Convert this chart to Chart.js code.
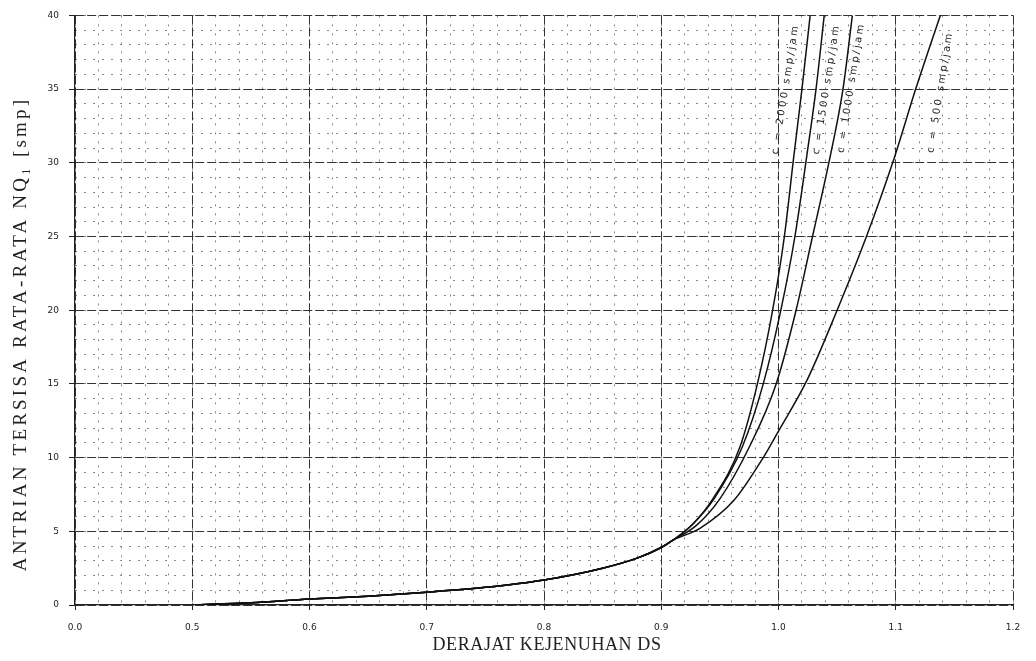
<!DOCTYPE html>
<html>
<head>
<meta charset="utf-8">
<script src="https://cdn.jsdelivr.net/npm/chart.js@4/dist/chart.umd.min.js"></script>
<style>
  html, body { margin: 0; padding: 0; background: #fff; }
  #wrap { width: 1036px; height: 661px; }
</style>
</head>
<body>
<div id="wrap"><canvas id="grafikAntrian" width="1036" height="661"></canvas></div>
<script>
// tick labels of the (broken) DS axis: 0.0 then 0.5 .. 1.2
const xTickLabels = ['0.0', '0.5', '0.6', '0.7', '0.8', '0.9', '1.0', '1.1', '1.2'];
const yTicks = [0, 5, 10, 15, 20, 25, 30, 35, 40];

const judulX = 'DERAJAT KEJENUHAN DS';
const judulY = 'ANTRIAN TERSISA RATA-RATA NQ\u2081 [smp]';

// common part of all curves (DS up to the split)
const dsDasar = [0.50, 0.55, 0.60, 0.65, 0.70, 0.75, 0.80, 0.85, 0.88, 0.90, 0.91];
const nqDasar = [0, 0.15, 0.4, 0.6, 0.87, 1.2, 1.7, 2.5, 3.2, 3.9, 4.4];

// after the split, one per capacity
const ds2000 = [0.927, 0.944, 0.967, 0.982, 0.995, 1.005, 1.013, 1.020, 1.027];
const nq2000 = [5.5, 7.2, 10.7, 15, 20, 25, 30.4, 35, 40];

const ds1500 = [0.927, 0.945, 0.969, 0.987, 1.002, 1.014, 1.024, 1.032, 1.039];
const nq1500 = [5.5, 7.2, 10.7, 15, 20, 25, 30.4, 35, 40];

const ds1000 = [0.930, 0.950, 0.975, 0.998, 1.015, 1.029, 1.044, 1.055, 1.063];
const nq1000 = [5.4, 7.2, 10.7, 15, 20, 25, 30.4, 35, 40];

const ds500 = [0.933, 0.962, 0.987, 1.000, 1.024, 1.050, 1.075, 1.099, 1.117, 1.138];
const nq500 = [5.2, 7.1, 10.0, 11.8, 15.2, 20, 25, 30.4, 35, 40];

// curve labels
const labelTeks = ['c = 2000 smp/jam', 'c = 1500 smp/jam', 'c = 1000 smp/jam', 'c = 500 smp/jam'];
const labelDs = [1.006, 1.041, 1.062, 1.138];
const labelNq = [35.0, 35.0, 35.1, 34.8];

// 0.0-0.5 is squeezed into one division, after that one division = 0.1
function posisiX(ds) {
  if (ds <= 0.5) return ds * 2;
  return (ds - 0.4) * 10;
}

function buatData(dsEkor, nqEkor) {
  const ds = dsDasar.concat(dsEkor);
  const nq = nqDasar.concat(nqEkor);
  return ds.map((d, i) => ({ x: posisiX(d), y: nq[i] }));
}

function garis(label, data) {
  return {
    label: label,
    data: data,
    borderColor: '#111',
    borderWidth: 1.5,
    pointRadius: 0,
    fill: false,
    cubicInterpolationMode: 'monotone'
  };
}

// curve labels + axis titles (spaced letters like the scan)
const pluginTeks = {
  id: 'teksGrafik',
  afterDatasetsDraw(chart) {
    const ctx = chart.ctx;
    const sx = chart.scales.x;
    const sy = chart.scales.y;
    ctx.save();
    ctx.fillStyle = '#222';
    ctx.textAlign = 'center';
    ctx.textBaseline = 'middle';

    ctx.font = '10px "DejaVu Sans"';
    ctx.letterSpacing = '2.5px';
    labelTeks.forEach((t, i) => {
      const px = sx.getPixelForValue(posisiX(labelDs[i]));
      const py = sy.getPixelForValue(labelNq[i]);
      ctx.save();
      ctx.translate(px, py);
      ctx.rotate(-81 * Math.PI / 180);
      ctx.fillText(t, 0, 0);
      ctx.restore();
    });

    ctx.font = '18px "Liberation Serif"';
    ctx.letterSpacing = '0.6px';
    ctx.fillText(judulX, 547, 645);

    ctx.font = '19px "Liberation Serif"';
    ctx.letterSpacing = '3.2px';
    ctx.save();
    ctx.translate(21, 334);
    ctx.rotate(-Math.PI / 2);
    ctx.fillText(judulY, 0, 0);
    ctx.restore();

    ctx.restore();
  }
};

const grafikAntrian = document.getElementById('grafikAntrian');
const grafik = new Chart(grafikAntrian, {
  type: 'line',
  data: {
    datasets: [
      garis('c = 2000', buatData(ds2000, nq2000)),
      garis('c = 1500', buatData(ds1500, nq1500)),
      garis('c = 1000', buatData(ds1000, nq1000)),
      garis('c = 500', buatData(ds500, nq500))
    ]
  },
  options: {
    responsive: false,
    animation: false,
    layout: { padding: { top: 0, right: 23, left: 0, bottom: 4 } },
    plugins: {
      legend: { display: false },
      tooltip: { enabled: false }
    },
    scales: {
      xMinor: {
        type: 'linear', position: 'bottom', min: 0, max: 8,
        ticks: { display: false, stepSize: 0.2 },
        grid: { color: '#888', drawTicks: false, lineWidth: 1 },
        border: { display: false, dash: [2, 7] },
        afterFit(s) { s.height = 0; }
      },
      yMinor: {
        type: 'linear', position: 'left', min: 0, max: 40,
        ticks: { display: false, stepSize: 1 },
        grid: { color: '#888', drawTicks: false, lineWidth: 1 },
        border: { display: false, dash: [2, 7] },
        afterFit(s) { s.width = 0; }
      },
      x: {
        type: 'linear', position: 'bottom', min: 0, max: 8,
        ticks: {
          stepSize: 1,
          padding: 12,
          color: '#222',
          font: { family: 'DejaVu Sans', size: 9 },
          callback: (v) => xTickLabels[v]
        },
        grid: { color: '#333', lineWidth: 1, tickLength: 5, tickColor: '#222' },
        border: { display: true, color: '#222', width: 1.2, dash: [9, 3] },
        afterFit(s) { s.height = 52; }
      },
      y: {
        type: 'linear', position: 'left', min: 0, max: 40,
        afterBuildTicks(s) { s.ticks = yTicks.map(v => ({ value: v })); },
        ticks: {
          padding: 10,
          color: '#222',
          font: { family: 'DejaVu Sans', size: 9 }
        },
        grid: { color: '#333', lineWidth: 1, tickLength: 6, tickColor: '#222' },
        border: { display: true, color: '#222', width: 1.2, dash: [9, 3] },
        afterFit(s) { s.width = 75; }
      }
    }
  },
  plugins: [pluginTeks]
});
</script>
</body>
</html>
